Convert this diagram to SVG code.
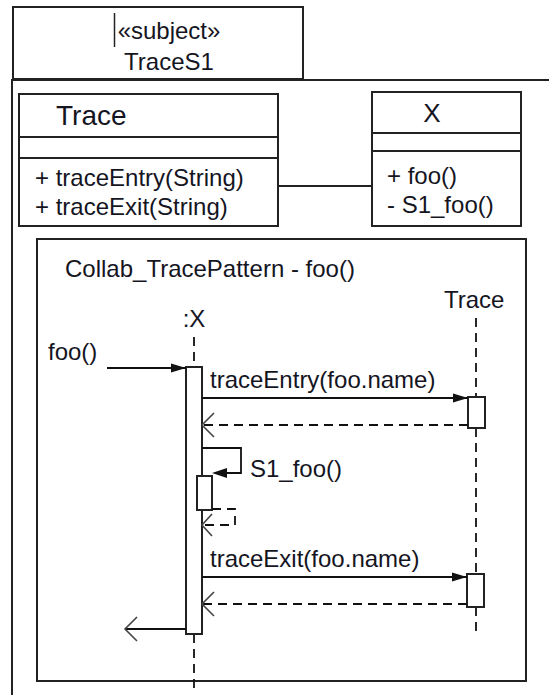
<svg xmlns="http://www.w3.org/2000/svg" width="549" height="695" viewBox="0 0 549 695">
<style>
  text { font-family: "Liberation Sans", Arial, sans-serif; fill: #15151f; }
  .box { fill: #fff; stroke: #222; stroke-width: 2; }
  .ln { stroke: #222; stroke-width: 2; fill: none; }
  .msg { stroke: #111; stroke-width: 1.8; fill: none; }
  .dash { stroke: #111; stroke-width: 1.8; fill: none; stroke-dasharray: 9 6; }
  .open { stroke: #444; stroke-width: 1.6; fill: none; }
  .t24 { font-size: 24px; }
</style>
<defs>
  <marker id="filled" markerUnits="userSpaceOnUse" markerWidth="16" markerHeight="12" refX="15" refY="6" orient="auto">
    <path d="M0,1.5 L15,6 L0,10.5 Z" fill="#111"/>
  </marker>
</defs>
<rect width="549" height="695" fill="#fff"/>

<g id="subject">
  <rect class="box" x="13" y="7" width="290" height="72"/>
  <line x1="114.5" y1="13" x2="114.5" y2="47" stroke="#222" stroke-width="1.5"/>
  <text class="t24" x="169" y="39" text-anchor="middle">«subject»</text>
  <text class="t24" x="169" y="70" text-anchor="middle">TraceS1</text>
</g>

<g id="frame">
  <path class="ln" d="M12,695 V80 H549"/>
</g>

<g id="classTrace">
  <rect class="box" x="19" y="94" width="259" height="132"/>
  <line class="ln" x1="19" y1="137" x2="278" y2="137"/>
  <line class="ln" x1="19" y1="158" x2="278" y2="158"/>
  <text x="56" y="125" font-size="28">Trace</text>
  <text class="t24" x="35" y="186">+ traceEntry(String)</text>
  <text class="t24" x="35" y="215">+ traceExit(String)</text>
</g>

<g id="classX">
  <rect class="box" x="372" y="92" width="149" height="134"/>
  <line class="ln" x1="372" y1="133" x2="521" y2="133"/>
  <line class="ln" x1="372" y1="151" x2="521" y2="151"/>
  <text x="432" y="122" font-size="26" text-anchor="middle">X</text>
  <text class="t24" x="387" y="184">+ foo()</text>
  <text class="t24" x="387" y="213">- S1_foo()</text>
</g>

<g id="collab">
  <rect class="box" x="37" y="239" width="489" height="442" fill="none"/>
  <text class="t24" x="65" y="277">Collab_TracePattern - foo()</text>
</g>

<g id="lifelineX">
  <text class="t24" x="194" y="327" text-anchor="middle">:X</text>
  <line class="dash" x1="194" y1="337" x2="194" y2="367"/>
  <line class="dash" x1="194" y1="634" x2="194" y2="690"/>
  <rect class="box" x="186" y="367" width="16" height="267"/>
  <rect class="box" x="197" y="476" width="15" height="34"/>
</g>

<g id="lifelineTrace">
  <text class="t24" x="444" y="308">Trace</text>
  <line class="dash" x1="476" y1="318" x2="476" y2="397"/>
  <line class="dash" x1="476" y1="428" x2="476" y2="574"/>
  <line class="dash" x1="476" y1="607" x2="476" y2="632"/>
  <rect class="box" x="468" y="397" width="17" height="31"/>
  <rect class="box" x="467" y="574" width="17" height="33"/>
</g>

<g id="connectors">
  <line class="ln" x1="278" y1="186" x2="372" y2="186"/>
  <!-- found message foo() -->
  <text class="t24" x="48" y="360">foo()</text>
  <line class="msg" x1="107" y1="368" x2="186" y2="368" marker-end="url(#filled)"/>
  <!-- traceEntry -->
  <text class="t24" x="210" y="388">traceEntry(foo.name)</text>
  <line class="msg" x1="202" y1="398" x2="468" y2="398" marker-end="url(#filled)"/>
  <line class="dash" x1="468" y1="425" x2="203" y2="425"/>
  <path class="open" d="M214,413 L202,425 L214,437"/>
  <!-- self call -->
  <path class="msg" d="M202,448 H241 V473 H226"/>
  <path d="M212,473 L227,468 L227,478 Z" fill="#111"/>
  <text class="t24" x="250" y="477">S1_foo()</text>
  <path class="dash" d="M212,509 H235 V525 H203" stroke-dasharray="8 5"/>
  <path class="open" d="M212,514 L202,525 L212,536"/>
  <!-- traceExit -->
  <text class="t24" x="210" y="567">traceExit(foo.name)</text>
  <line class="msg" x1="202" y1="577" x2="467" y2="577" marker-end="url(#filled)"/>
  <line class="dash" x1="467" y1="604" x2="203" y2="604"/>
  <path class="open" d="M214,592 L202,604 L214,616"/>
  <!-- return -->
  <line class="msg" x1="186" y1="629" x2="125" y2="629"/>
  <path class="open" d="M137,617 L125,629 L137,641"/>
</g>
</svg>
